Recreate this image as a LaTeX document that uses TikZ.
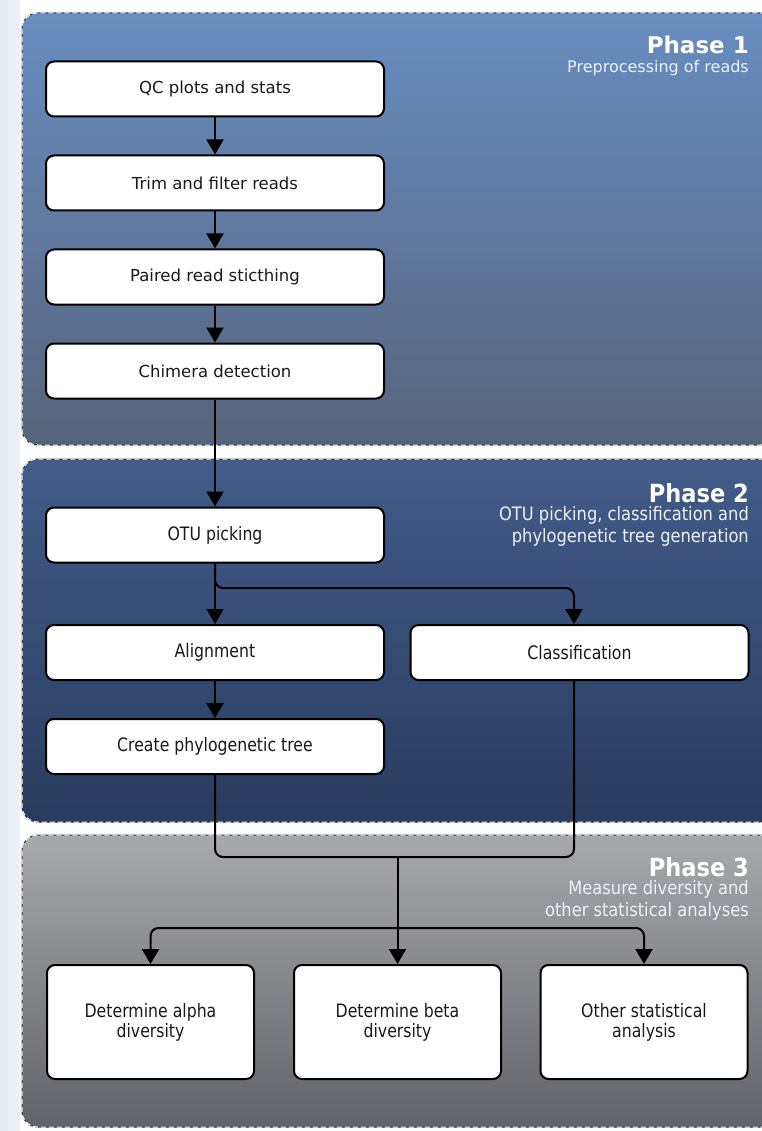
\documentclass[tikz,border=0pt]{standalone}
\usepackage{fontspec}
\setmainfont{DejaVu Sans}
\newfontfamily\condfont[FakeStretch=0.85]{DejaVu Sans}
\newfontfamily\subfont[FakeStretch=0.88]{DejaVu Sans}
\newfontfamily\condbold[FakeStretch=0.9]{DejaVu Sans Bold}
\usetikzlibrary{arrows.meta}
\definecolor{pAtop}{RGB}{104,141,192}
\definecolor{pAbot}{RGB}{86,100,124}
\definecolor{pBtop}{RGB}{66,92,136}
\definecolor{pBbot}{RGB}{40,60,94}
\definecolor{pCtop}{RGB}{168,169,173}
\definecolor{pCbot}{RGB}{98,99,104}
\definecolor{edgec}{RGB}{45,52,66}
\definecolor{strip}{RGB}{230,235,243}
\definecolor{subt}{RGB}{236,241,248}
\tikzset{
  panel/.style={rounded corners=16pt},
  panelborder/.style={draw=edgec, line width=1pt, rounded corners=16pt},
  paneldash/.style={draw=white, line width=1pt, dash pattern=on 5pt off 3pt, rounded corners=16pt},
  boxA/.style={draw=black, fill=white, line width=2pt, rounded corners=8pt, minimum width=338pt, minimum height=55pt, inner sep=0pt, font=\fontsize{16.5}{20}\selectfont, text=black!90},
  boxB/.style={draw=black, fill=white, line width=2pt, rounded corners=8pt, minimum width=338pt, minimum height=55pt, inner sep=0pt, font=\condfont\fontsize{18.5}{20}\selectfont, text=black!90},
  boxC/.style={draw=black, fill=white, line width=2pt, rounded corners=8pt, minimum width=207pt, minimum height=114pt, inner sep=0pt, align=center, font=\condfont\fontsize{18.5}{20}\selectfont, text=black!90},
  conn/.style={draw=black, line width=2pt},
  arr/.style={conn, -{Triangle[width=17pt,length=15pt]}},
  ptitle/.style={anchor=east, text=white, font=\bfseries\fontsize{23}{26}\selectfont, inner sep=0pt},
  psub/.style={anchor=east, text=subt, align=right, font=\fontsize{16}{20}\selectfont, inner sep=0pt},
  psubB/.style={anchor=east, text=subt, align=right, font=\subfont\fontsize{18.5}{22}\selectfont, inner sep=0pt},
}
\begin{document}
\begin{tikzpicture}[x=1pt,y=-1pt]
\useasboundingbox (0,0) rectangle (761,1131);
\fill[white] (0,0) rectangle (761,1131);
\shade[left color=strip, right color=strip!70!white] (0,0) rectangle (20,1131);
% panels
\shade[panel, top color=pAtop, bottom color=pAbot] (22,13) rectangle (776,445);
\draw[panelborder] (22,13) rectangle (776,445);
\draw[paneldash] (22,13) rectangle (776,445);
\shade[panel, top color=pBtop, bottom color=pBbot] (22,459) rectangle (776,822);
\draw[panelborder] (22,459) rectangle (776,822);
\draw[paneldash] (22,459) rectangle (776,822);
\shade[panel, top color=pCtop, bottom color=pCbot] (22,835) rectangle (776,1127);
\draw[panelborder] (22,835) rectangle (776,1127);
\draw[paneldash] (22,835) rectangle (776,1127);
% titles
\node[ptitle] (t1) at (749,45) {Phase 1};
\node[psub] (s1) at (749,68) {Preprocessing of reads};
\node[ptitle, font=\condbold\fontsize{25}{26}\selectfont] (t2) at (749,493) {Phase 2};
\node[psubB] (s2) at (749,526) {OTU picking, classification and\\phylogenetic tree generation};
\node[ptitle, font=\condbold\fontsize{25}{26}\selectfont] (t3) at (749,867) {Phase 3};
\node[psubB] (s3) at (749,900) {Measure diversity and\\other statistical analyses};
% boxes
\node[boxA] (qc) at (215,89) {QC plots and stats};
\node[boxA] (trim) at (215,183) {Trim and filter reads};
\node[boxA] (paired) at (215,277) {Paired read sticthing};
\node[boxA] (chim) at (215,371) {Chimera detection};
\node[boxB] (otu) at (215,535) {OTU picking};
\node[boxB] (align) at (215,652.5) {Alignment};
\node[boxB] (classif) at (579.5,652.5) {Classification};
\node[boxB] (phylo) at (215,746.5) {Create phylogenetic tree};
\node[boxC] (alpha) at (150.5,1022) {Determine alpha\\diversity};
\node[boxC] (beta) at (397.5,1022) {Determine beta\\diversity};
\node[boxC] (other) at (644,1022) {Other statistical\\analysis};
% coordinates
\coordinate (sp2) at (574,588);
\coordinate (mg) at (397.5,857);
\coordinate (sp3) at (397.5,928);
% connectors
\draw[arr] (qc) -- (trim);
\draw[arr] (trim) -- (paired);
\draw[arr] (paired) -- (chim);
\draw[arr] (chim) -- (otu);
\draw[arr] (otu) -- (align);
\draw[arr, rounded corners=8pt] (otu.south) |- (sp2) -- (sp2 |- classif.north);
\draw[arr] (align) -- (phylo);
\draw[conn, rounded corners=8pt] (phylo.south) |- (mg) -| (sp2 |- classif.south);
\draw[arr] (mg) -- (beta.north);
\draw[arr, rounded corners=8pt] (sp3) -| (alpha.north);
\draw[arr, rounded corners=8pt] (sp3) -| (other.north);
\end{tikzpicture}
\end{document}
